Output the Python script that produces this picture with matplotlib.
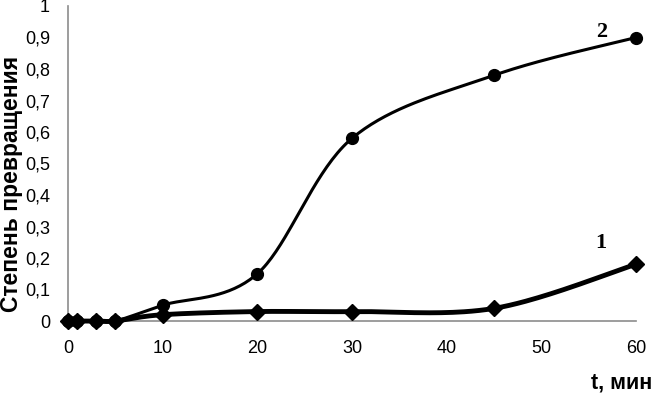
import matplotlib

matplotlib.use("Agg")
import matplotlib.pyplot as plt
import numpy as np

t_min = [0, 1, 3, 5, 10, 20, 30, 45, 60]
conv_1 = [0, 0, 0, 0, 0.02, 0.03, 0.03, 0.04, 0.18]
conv_2 = [0, 0, 0, 0, 0.05, 0.15, 0.58, 0.78, 0.90]
y_ticks = [0, 0.1, 0.2, 0.3, 0.4, 0.5, 0.6, 0.7, 0.8, 0.9, 1]
y_tick_labels = ["0", "0,1", "0,2", "0,3", "0,4", "0,5", "0,6", "0,7", "0,8", "0,9", "1"]
x_ticks = [0, 10, 20, 30, 40, 50, 60]


def smooth(x, y, n=40):
    # Excel-like smoothed line: cubic Bezier through points, Catmull-Rom handles
    p = np.column_stack([x, y]).astype(float)
    out = []
    for i in range(len(p) - 1):
        p0 = p[i - 1] if i > 0 else p[i]
        p3 = p[i + 2] if i + 2 < len(p) else p[i + 1]
        c1 = p[i] + (p[i + 1] - p0) / 6
        c2 = p[i + 1] - (p3 - p[i]) / 6
        s = np.linspace(0, 1, n)[:, None]
        seg = ((1 - s) ** 3 * p[i] + 3 * (1 - s) ** 2 * s * c1
               + 3 * (1 - s) * s ** 2 * c2 + s ** 3 * p[i + 1])
        out.append(seg)
    pts = np.vstack(out)
    return pts[:, 0], pts[:, 1]


plt.rcParams["font.family"] = ["Liberation Sans", "DejaVu Sans"]

fig = plt.figure(figsize=(6.51, 3.94), dpi=100)
ax = fig.add_axes([68 / 651, 73 / 394, 568 / 651, 315 / 394])

sx, sy = smooth(t_min, conv_2)
ax.plot(sx, sy, color="black", linewidth=2.2, zorder=2, clip_on=False)
ax.plot(t_min, conv_2, "o", color="black", markersize=8.5, zorder=3, clip_on=False)

sx, sy = smooth(t_min, conv_1)
ax.plot(sx, sy, color="black", linewidth=3.5, zorder=4, clip_on=False)
ax.plot(t_min, conv_1, "D", color="black", markersize=8, zorder=5, clip_on=False)

ax.text(56.3, 0.248, "1", family="Liberation Serif", fontweight="bold", fontsize=16,
        ha="center", va="center")
ax.text(56.4, 0.917, "2", family="Liberation Serif", fontweight="bold", fontsize=16,
        ha="center", va="center")

ax.set_xlim(0, 60)
ax.set_ylim(0, 1)
ax.set_xticks(x_ticks)
ax.set_yticks(y_ticks)
ax.set_yticklabels(y_tick_labels)
ax.tick_params(length=0, labelsize=13)
ax.tick_params(axis="x", pad=14)
ax.tick_params(axis="y", pad=13)
for side in ("top", "right"):
    ax.spines[side].set_visible(False)
for side in ("left", "bottom"):
    ax.spines[side].set_color("#8c8c8c")
    ax.spines[side].set_linewidth(1.2)

ax.set_ylabel("Степень превращения", fontsize=16.5, fontweight="bold", va="center")
ax.yaxis.set_label_coords(-0.1, 0.435)
fig.text(652 / 651, 11 / 394, "t, мин", fontsize=15.5, fontweight="bold",
         ha="right", va="center")

fig.savefig("out.png", dpi=100)
